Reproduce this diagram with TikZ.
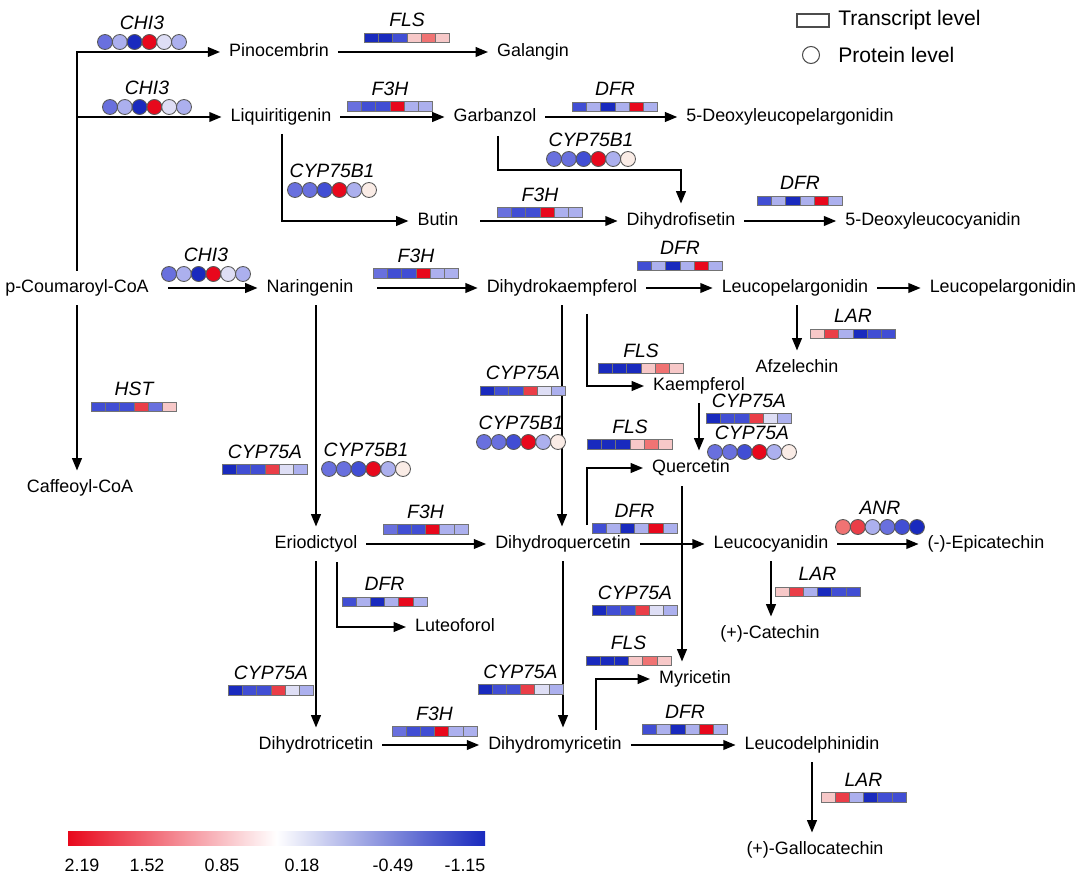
\documentclass[tikz,border=0pt]{standalone}
\usepackage{fontspec}
\setmainfont{Liberation Sans}
\usetikzlibrary{arrows.meta}

\definecolor{hDB}{RGB}{25,42,190}
\definecolor{hMB}{RGB}{65,78,212}
\definecolor{hLB}{RGB}{105,112,222}
\definecolor{hPB}{RGB}{172,176,238}
\definecolor{hVB}{RGB}{222,222,245}
\definecolor{hRD}{RGB}{232,8,28}
\definecolor{hR2}{RGB}{234,62,72}
\definecolor{hLR}{RGB}{240,115,115}
\definecolor{hPR}{RGB}{247,200,200}
\definecolor{hWH}{RGB}{250,236,230}

% transcript bar: name, x, y, gene, colours
\newcommand{\genebar}[5]{%
  \foreach \c [count=\i] in {#5} {
    \draw[cell, fill=\c] ({#2+(\i-3.5)*14.2-7.1},{#3-4.75}) rectangle ++(14.2,9.5);
  }
  \node[gene] (#1) at (#2,{#3-18}) {#4};
}
% protein circles: name, x, y, gene, colours
\newcommand{\genedots}[5]{%
  \foreach \c [count=\i] in {#5} {
    \draw[dot, fill=\c] ({#2+(\i-3.5)*14.8},#3) circle (0.15cm);
  }
  \node[gene] (#1) at (#2,{#3-19}) {#4};
}

\begin{document}
\begin{tikzpicture}[x=0.02cm, y=-0.02cm,
          cpd/.style={inner sep=5pt, text height=7.5pt, text depth=2pt, font=\fontsize{10.2}{12}\selectfont},
          gene/.style={inner sep=0pt, font=\fontsize{11}{13}\selectfont\itshape},
          legtxt/.style={anchor=west, inner sep=0pt, font=\fontsize{12}{14}\selectfont},
          num/.style={inner sep=0pt, font=\fontsize{10.2}{12}\selectfont},
          cell/.style={draw=black!55, line width=0.4pt},
          dot/.style={draw=black!65, line width=0.5pt},
          arrow/.style={->, line width=1pt, >={Triangle[length=7pt, width=5.5pt]}}
        ]
          \useasboundingbox (0,0) rectangle (1080,875);

          % Compounds
          \node[cpd] (pino) at (279,52) {Pinocembrin};
          \node[cpd] (gal) at (533,52) {Galangin};
          \node[cpd] (liq) at (281,117) {Liquiritigenin};
          \node[cpd] (garb) at (495,117) {Garbanzol};
          \node[cpd] (dlp) at (790,117) {5-Deoxyleucopelargonidin};
          \node[cpd] (butin) at (438,221) {Butin};
          \node[cpd] (dfis) at (681,221) {Dihydrofisetin};
          \node[cpd] (dlc) at (933,221) {5-Deoxyleucocyanidin};
          \node[cpd] (coum) at (77,288) {p-Coumaroyl-CoA};
          \node[cpd] (nar) at (310,288) {Naringenin};
          \node[cpd] (dhk) at (562,288) {Dihydrokaempferol};
          \node[cpd] (lpel) at (795,288) {Leucopelargonidin};
          \node[cpd] (lpelb) at (1003,288) {Leucopelargonidin};
          \node[cpd] (afz) at (797,368) {Afzelechin};
          \node[cpd] (kae) at (699,386) {Kaempferol};
          \node[cpd] (quer) at (691,468) {Quercetin};
          \node[cpd] (caff) at (80,488) {Caffeoyl-CoA};
          \node[cpd] (erio) at (316,544) {Eriodictyol};
          \node[cpd] (dhq) at (563,544) {Dihydroquercetin};
          \node[cpd] (lcy) at (771,544) {Leucocyanidin};
          \node[cpd] (epi) at (986,544) {(-)-Epicatechin};
          \node[cpd] (lut) at (455,627) {Luteoforol};
          \node[cpd] (cat) at (770,634) {(+)-Catechin};
          \node[cpd] (myr) at (695,679) {Myricetin};
          \node[cpd] (dtr) at (316,745) {Dihydrotricetin};
          \node[cpd] (dhm) at (555,745) {Dihydromyricetin};
          \node[cpd] (ldel) at (812,745) {Leucodelphinidin};
          \node[cpd] (galc) at (815,850) {(+)-Gallocatechin};

          % Branch points
          \coordinate (bbr) at (282,134);
          \coordinate (gbr) at (498,136);
          \coordinate (kbr) at (587,314);
          \coordinate (qbr) at (587,525);
          \coordinate (qdn) at (682,486);
          \coordinate (lbr) at (337,562);
          \coordinate (mbr) at (596,730);

          % Connections
          \draw[arrow] (coum.north) |- (pino.west);
          \draw[arrow] (coum.north) |- (liq.west);
          \draw[arrow, shorten <=0.2cm] (coum.east) -- (nar.west);
          \draw[arrow] (coum.south) -- (coum.south |- caff.north);
          \draw[arrow] (pino.east) -- (gal.west);
          \draw[arrow] (liq.east) -- (garb.west);
          \draw[arrow] (garb.east) -- (dlp.west);
          \draw[arrow] (bbr) |- (butin.west);
          \draw[arrow] (gbr) -- ++(0,34) -| (dfis.north);
          \draw[arrow, shorten <=0.25cm] (butin.east) -- (dfis.west);
          \draw[arrow] (dfis.east) -- (dlc.west);
          \draw[arrow, shorten <=0.3cm] (nar.east) -- (dhk.west);
          \draw[arrow] (dhk.east) -- (lpel.west);
          \draw[arrow] (lpel.east) -- (lpelb.west);
          \draw[arrow] (lpel.south -| afz.north) -- (afz.north);
          \draw[arrow] (nar.south -| erio.north) -- (erio.north);
          \draw[arrow] (dhk.south) -- (dhk.south |- dhq.north);
          \draw[arrow] (kbr) |- (kae.west);
          \draw[arrow] (kae.south) -- (kae.south |- quer.north);
          \draw[arrow] (qbr) |- (quer.west);
          \draw[arrow] (qdn) -- (qdn |- myr.north);
          \draw[arrow] (erio.east) -- (dhq.west);
          \draw[arrow] (dhq.east) -- (lcy.west);
          \draw[arrow] (lcy.east) -- (epi.west);
          \draw[arrow] (lcy.south) -- (lcy.south |- cat.north);
          \draw[arrow] (lbr) |- (lut.west);
          \draw[arrow] (erio.south) -- (dtr.north);
          \draw[arrow] (dhq.south) -- (dhq.south |- dhm.north);
          \draw[arrow] (mbr) |- (myr.west);
          \draw[arrow] (dtr.east) -- (dhm.west);
          \draw[arrow] (dhm.east) -- (ldel.west);
          \draw[arrow] (ldel.south) -- (ldel.south |- galc.north);

          % Transcript level
          \genebar{flsA}{407}{38}{FLS}{hDB,hDB,hMB,hPR,hLR,hPR}
          \genebar{f3hA}{390}{106.5}{F3H}{hLB,hMB,hMB,hRD,hPB,hPB}
          \genebar{dfrA}{615}{107}{DFR}{hMB,hPB,hDB,hPB,hRD,hPB}
          \genebar{f3hB}{540}{212.5}{F3H}{hLB,hMB,hMB,hRD,hPB,hPB}
          \genebar{dfrB}{800}{201}{DFR}{hMB,hPB,hDB,hPB,hRD,hPB}
          \genebar{f3hC}{416}{273.5}{F3H}{hLB,hMB,hMB,hRD,hPB,hPB}
          \genebar{dfrC}{680}{266}{DFR}{hMB,hPB,hDB,hPB,hRD,hPB}
          \genebar{larA}{853}{334}{LAR}{hPR,hR2,hPB,hDB,hMB,hMB}
          \genebar{flsB}{641}{368.5}{FLS}{hDB,hDB,hDB,hPR,hLR,hPR}
          \genebar{hst}{134}{407}{HST}{hMB,hMB,hMB,hR2,hLB,hPR}
          \genebar{cypA}{523}{391}{CYP75A}{hDB,hMB,hMB,hR2,hVB,hPB}
          \genebar{cypB}{749}{418.5}{CYP75A}{hDB,hMB,hMB,hR2,hVB,hPB}
          \genebar{flsC}{630}{444.5}{FLS}{hDB,hDB,hDB,hPR,hLR,hPR}
          \genebar{cypC}{265}{469.5}{CYP75A}{hDB,hMB,hMB,hR2,hVB,hPB}
          \genebar{f3hD}{425.5}{529.5}{F3H}{hLB,hMB,hMB,hRD,hPB,hPB}
          \genebar{dfrD}{634.5}{528.5}{DFR}{hMB,hPB,hDB,hPB,hRD,hPB}
          \genebar{larB}{817.5}{592}{LAR}{hPR,hR2,hPB,hDB,hMB,hMB}
          \genebar{dfrE}{384.5}{602}{DFR}{hMB,hPB,hDB,hPB,hRD,hPB}
          \genebar{cypD}{635}{610.5}{CYP75A}{hDB,hMB,hMB,hR2,hVB,hPB}
          \genebar{flsD}{628.5}{661}{FLS}{hDB,hDB,hDB,hPR,hLR,hPR}
          \genebar{cypE}{520.5}{689.5}{CYP75A}{hDB,hMB,hMB,hR2,hVB,hPB}
          \genebar{cypF}{271}{690.5}{CYP75A}{hDB,hMB,hMB,hR2,hVB,hPB}
          \genebar{f3hE}{434.5}{731.5}{F3H}{hLB,hMB,hMB,hRD,hPB,hPB}
          \genebar{dfrF}{685}{729.5}{DFR}{hMB,hPB,hDB,hPB,hRD,hPB}
          \genebar{larC}{863.5}{797.5}{LAR}{hPR,hR2,hPB,hDB,hMB,hMB}

          % Protein level
          \genedots{chiA}{142}{42}{CHI3}{hLB,hPB,hDB,hRD,hVB,hPB}
          \genedots{chiB}{147}{107}{CHI3}{hLB,hPB,hDB,hRD,hVB,hPB}
          \genedots{cybA}{591}{159}{CYP75B1}{hLB,hLB,hMB,hRD,hPB,hWH}
          \genedots{cybB}{332}{190}{CYP75B1}{hLB,hLB,hMB,hRD,hPB,hWH}
          \genedots{chiC}{206}{274}{CHI3}{hLB,hPB,hDB,hRD,hVB,hPB}
          \genedots{cybC}{521}{442}{CYP75B1}{hLB,hLB,hMB,hRD,hPB,hWH}
          \genedots{cypG}{752}{452}{CYP75A}{hLB,hLB,hMB,hRD,hPB,hWH}
          \genedots{cybD}{366}{469}{CYP75B1}{hLB,hLB,hMB,hRD,hPB,hWH}
          \genedots{anr}{880}{527}{ANR}{hLR,hR2,hPB,hLB,hMB,hDB}

          % Legend
          \draw[black!70, fill=white, line width=0.6pt] (797,14) rectangle (829,27);
          \node[legtxt] (tlev) at (838,20) {Transcript level};
          \draw[black!70, fill=white, line width=0.6pt] (811,55) circle (0.17cm);
          \node[legtxt] (plev) at (838,55) {Protein level};

          % Colour scale
          \shade[left color=hRD, right color=hDB, middle color=white] (68,831) rectangle (485,845);
          \node[num] (v1) at (82,865) {2.19};
          \node[num] (v2) at (147,865) {1.52};
          \node[num] (v3) at (222,865) {0.85};
          \node[num] (v4) at (302,865) {0.18};
          \node[num] (v5) at (393,865) {-0.49};
          \node[num] (v6) at (465,865) {-1.15};
        \end{tikzpicture}
\end{document}
